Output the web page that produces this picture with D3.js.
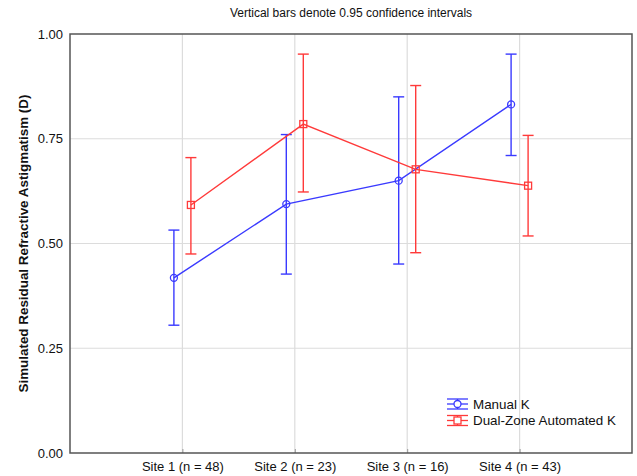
<!DOCTYPE html>
<html>
<head>
<meta charset="utf-8">
<script src="https://cdn.jsdelivr.net/npm/d3@7"></script>
<style>
body { margin: 0; background: #fff; }
text { font-family: "Liberation Sans", Arial, sans-serif; fill: #111; }
</style>
</head>
<body>
<script>
//chart data
var sites = ["Site 1 (n = 48)", "Site 2 (n = 23)", "Site 3 (n = 16)", "Site 4 (n = 43)"];
var manualMean = [0.418, 0.594, 0.650, 0.832];
var manualLow = [0.305, 0.427, 0.451, 0.710];
var manualHigh = [0.532, 0.760, 0.850, 0.952];
var dualMean = [0.592, 0.785, 0.677, 0.638];
var dualLow = [0.475, 0.623, 0.478, 0.518];
var dualHigh = [0.705, 0.952, 0.877, 0.758];
var yTicks = [0, 0.25, 0.5, 0.75, 1];

var w = 637, h = 476;
//plot box edges (window.top is reserved, so prefixed names)
var plotLeft = 70, plotRight = 632, plotTop = 34, plotBottom = 453;

var svg = d3.select("body").append("svg")
    .attr("width", w)
    .attr("height", h);

var x = d3.scalePoint()
    .domain(sites)
    .range([plotLeft, plotRight])
    .padding(1);

var y = d3.scaleLinear()
    .domain([0, 1])
    .range([plotBottom, plotTop]);

//grid lines
svg.selectAll(".hgrid")
    .data([0.25, 0.5, 0.75])
    .enter()
    .append("line")
    .attr("x1", plotLeft).attr("x2", plotRight)
    .attr("y1", function(d){ return y(d); })
    .attr("y2", function(d){ return y(d); })
    .style("stroke", "#dcdcdc")
    .style("stroke-width", 1.2);

svg.selectAll(".vgrid")
    .data(sites)
    .enter()
    .append("line")
    .attr("x1", function(d){ return x(d); })
    .attr("x2", function(d){ return x(d); })
    .attr("y1", plotTop).attr("y2", plotBottom)
    .style("stroke", "#dcdcdc")
    .style("stroke-width", 1.2);

//axes
var yAxis = d3.axisLeft(y)
    .tickValues(yTicks)
    .tickSize(0)
    .tickPadding(7)
    .tickFormat(d3.format(".2f"));

svg.append("g")
    .attr("transform", "translate(" + plotLeft + ",0)")
    .call(yAxis)
    .call(function(g){ g.select(".domain").remove(); })
    .selectAll("text")
    .style("font-size", "13px");

var xAxis = d3.axisBottom(x)
    .tickSize(-4)
    .tickPadding(9);

svg.append("g")
    .attr("transform", "translate(0," + plotBottom + ")")
    .call(xAxis)
    .call(function(g){ g.select(".domain").remove(); })
    .call(function(g){ g.selectAll(".tick line").style("stroke", "#999"); })
    .selectAll("text")
    .style("font-size", "13px");

//plot frame
svg.append("rect")
    .attr("x", plotLeft).attr("y", plotTop)
    .attr("width", plotRight - plotLeft)
    .attr("height", plotBottom - plotTop)
    .style("fill", "none")
    .style("stroke", "#555")
    .style("stroke-width", 1.5);

//series
var series = [
    { name: "Manual K", mean: manualMean, low: manualLow, high: manualHigh, color: "#3a3aff", shift: -8.5, shape: "circle" },
    { name: "Dual-Zone Automated K", mean: dualMean, low: dualLow, high: dualHigh, color: "#ff3a3a", shift: 8.5, shape: "square" }
];

series.forEach(function(s){
    var pts = sites.map(function(site, i){
        return { x: x(site) + s.shift, m: s.mean[i], lo: s.low[i], hi: s.high[i] };
    });
    var g = svg.append("g");

    //error bars
    g.selectAll(".err").data(pts).enter().append("line")
        .attr("x1", function(d){ return d.x; })
        .attr("x2", function(d){ return d.x; })
        .attr("y1", function(d){ return y(d.lo); })
        .attr("y2", function(d){ return y(d.hi); })
        .style("stroke", s.color).style("stroke-width", 1.4);
    [ "lo", "hi" ].forEach(function(k){
        g.selectAll(".cap" + k).data(pts).enter().append("line")
            .attr("x1", function(d){ return d.x - 5.5; })
            .attr("x2", function(d){ return d.x + 5.5; })
            .attr("y1", function(d){ return y(d[k]); })
            .attr("y2", function(d){ return y(d[k]); })
            .style("stroke", s.color).style("stroke-width", 1.4);
    });

    //mean line
    g.append("path")
        .datum(pts)
        .attr("d", d3.line().x(function(d){ return d.x; }).y(function(d){ return y(d.m); }))
        .style("fill", "none")
        .style("stroke", s.color)
        .style("stroke-width", 1.4);

    //markers
    if (s.shape == "circle") {
        g.selectAll(".mk").data(pts).enter().append("circle")
            .attr("cx", function(d){ return d.x; })
            .attr("cy", function(d){ return y(d.m); })
            .attr("r", 3.5)
            .style("fill", "none").style("stroke", s.color).style("stroke-width", 1.3);
    } else {
        g.selectAll(".mk").data(pts).enter().append("rect")
            .attr("x", function(d){ return d.x - 3.5; })
            .attr("y", function(d){ return y(d.m) - 3.5; })
            .attr("width", 7).attr("height", 7)
            .style("fill", "none").style("stroke", s.color).style("stroke-width", 1.3);
    }
});

//legend
var legend = svg.selectAll(".legend")
    .data(series)
    .enter()
    .append("g")
    .attr("transform", function(d, i){ return "translate(447," + (404 + i * 16.5) + ")"; });

legend.each(function(s){
    var g = d3.select(this);
    [-5, 0, 5].forEach(function(dy){
        g.append("line")
            .attr("x1", 0).attr("x2", 21)
            .attr("y1", dy).attr("y2", dy)
            .style("stroke", s.color).style("stroke-width", 1.3);
    });
    g.append("line")
        .attr("x1", 10.5).attr("x2", 10.5)
        .attr("y1", -5).attr("y2", 5)
        .style("stroke", s.color).style("stroke-width", 1.3);
    if (s.shape == "circle") {
        g.append("circle").attr("cx", 10.5).attr("cy", 0).attr("r", 3.5)
            .style("fill", "#fff").style("stroke", s.color).style("stroke-width", 1.3);
    } else {
        g.append("rect").attr("x", 7).attr("y", -3.5).attr("width", 7).attr("height", 7)
            .style("fill", "#fff").style("stroke", s.color).style("stroke-width", 1.3);
    }
    g.append("text")
        .attr("x", 26)
        .attr("y", 0)
        .attr("dy", "0.35em")
        .style("font-size", "13.4px")
        .text(s.name);
});

//title
svg.append("text")
    .attr("x", 351)
    .attr("y", 17)
    .attr("text-anchor", "middle")
    .style("font-size", "12px")
    .text("Vertical bars denote 0.95 confidence intervals");

//y axis label
svg.append("text")
    .attr("transform", "translate(28," + ((plotTop + plotBottom) / 2) + ") rotate(-90)")
    .attr("text-anchor", "middle")
    .style("font-size", "13.4px")
    .style("font-weight", "bold")
    .text("Simulated Residual Refractive Astigmatism (D)");
</script>
</body>
</html>
